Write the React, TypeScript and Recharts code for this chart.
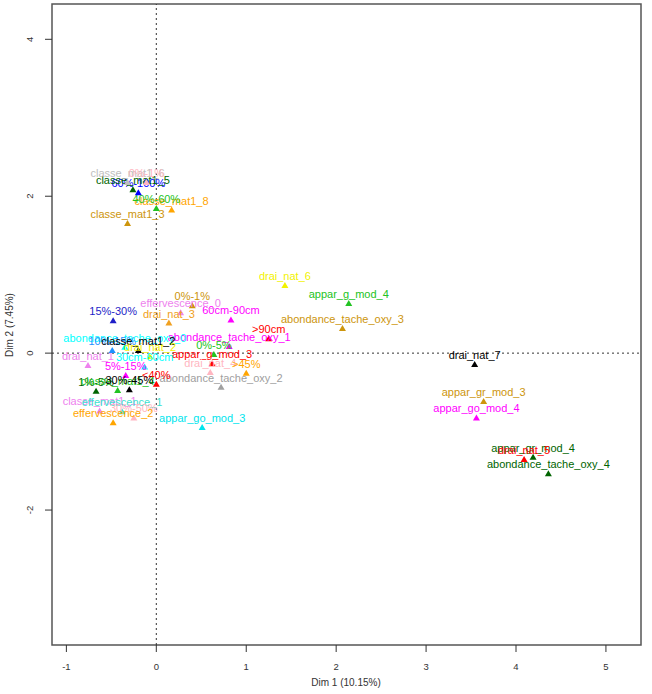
import React from "react";
import { ReferenceArea, ReferenceLine, Scatter, ScatterChart, XAxis, YAxis } from "recharts";

// modalités projetées sur le plan factoriel (Dim 1 / Dim 2)
const modalites = [
  "drai_nat_7", "appar_gr_mod_3", "appar_go_mod_4", "appar_gr_mod_4", "drai_nat_5",
  "abondance_tache_oxy_4", "drai_nat_6", "appar_g_mod_4", "abondance_tache_oxy_3", ">90cm",
  "60cm-90cm", "0%-1%", "effervescence_0", "drai_nat_3", "abondance_tache_oxy_1",
  "0%-5%", "appar_g_mod_3", "drai_nat_4", ">45%", "abondance_tache_oxy_2",
  "appar_go_mod_3", "<40%", "15%-30%", "classe_mat1_3", "classe_mat1_8",
  "40%-60%", "60%-100%", "classe_mat1_5", "classe_mat1_6", "0%-1%",
  "drai_nat_1", "abondance_tache_oxy_0", "10%-15%", "classe_mat1_2", "drai_nat_2",
  "30cm-60cm", "5%-15%", "1%-5%", "classe_mat1_4", "30%-45%",
  "classe_mat1_1", "effervescence_1", "30%-50%", "effervescence_2",
];

const dim1 = [
  3.54, 3.64, 3.56, 4.19, 4.09,
  4.36, 1.43, 2.14, 2.07, 1.25,
  0.83, 0.4, 0.27, 0.14, 0.81,
  0.64, 0.62, 0.6, 1.0, 0.72,
  0.51, 0.0, -0.48, -0.32, 0.17,
  0.0, -0.2, -0.26, -0.32, -0.11,
  -0.76, -0.35, -0.49, -0.2, -0.07,
  -0.13, -0.34, -0.67, -0.43, -0.3,
  -0.63, -0.38, -0.25, -0.48,
];

const dim2 = [
  -0.14, -0.61, -0.82, -1.32, -1.35,
  -1.53, 0.87, 0.64, 0.32, 0.19,
  0.43, 0.61, 0.52, 0.39, 0.09,
  -0.01, -0.13, -0.24, -0.25, -0.43,
  -0.94, -0.39, 0.42, 1.66, 1.83,
  1.85, 2.05, 2.09, 2.18, 2.18,
  -0.15, 0.08, 0.04, 0.04, -0.04,
  -0.17, -0.28, -0.48, -0.47, -0.46,
  -0.73, -0.74, -0.82, -0.88,
];

const ticksX = [-1, 0, 1, 2, 3, 4, 5];
const ticksY = [-2, 0, 2, 4];

// une couleur par variable, dans l'ordre des modalités
const couleurs = [
  "#000000", "#CD950C", "#FF00FF", "#006400", "#FF0000",
  "#006400", "#F2F200", "#22C322", "#CD950C", "#FF0000",
  "#FF00FF", "#CD950C", "#EE82EE", "#F0A020", "#FF00FF",
  "#22C322", "#FF0000", "#FFB6C1", "#FFA500", "#A0A0A0",
  "#00E5EE", "#FF0000", "#1E1EC8", "#CD950C", "#FFA500",
  "#22C322", "#0000FF", "#006400", "#BEBEBE", "#FFB6C1",
  "#EE82EE", "#00FFFF", "#1E90FF", "#000000", "#F2F200",
  "#00FFFF", "#FF00FF", "#006400", "#22C322", "#000000",
  "#EE82EE", "#40E0D0", "#FFB6C1", "#FFA500",
];

const points = modalites.map((nom, i) => ({ nom, x: dim1[i], y: dim2[i], couleur: couleurs[i] }));

const police = "'Liberation Sans', Arial, Helvetica, sans-serif";

// triangle plein + étiquette au-dessus, comme plot.MCA
function Modalite(props: any) {
  const { cx, cy, payload } = props;
  const c = payload.couleur;
  return (
    <g>
      <polygon points={`${cx - 3.5},${cy + 3} ${cx + 3.5},${cy + 3} ${cx},${cy - 3}`} fill={c} />
      <text x={cx} y={cy - 5} textAnchor="middle" fontSize={11} fontFamily={police} fill={c}>
        {payload.nom}
      </text>
    </g>
  );
}

function TickY(props: any) {
  const { y, payload } = props;
  return (
    <text
      transform={`translate(33, ${y}) rotate(-90)`}
      textAnchor="middle"
      fontSize={9.5}
      fontFamily={police}
      fill="#333"
    >
      {payload.value}
    </text>
  );
}

function TickX(props: any) {
  const { x, payload } = props;
  return (
    <text x={x} y={670} textAnchor="middle" fontSize={9.5} fontFamily={police} fill="#333">
      {payload.value}
    </text>
  );
}

export default function App() {
  return (
    <div style={{ position: "absolute", left: 0, top: 0, width: 652, height: 694, background: "#fff" }}>
      <ScatterChart width={652} height={694} margin={{ top: 4, right: 11, bottom: 0, left: 0 }}>
        <XAxis
          type="number"
          dataKey="x"
          domain={[-1.16, 5.39]}
          ticks={ticksX}
          allowDataOverflow
          height={49}
          axisLine={false}
          tickSize={7}
          tickLine={{ stroke: "#333" }}
          tick={<TickX />}
        />
        <YAxis
          type="number"
          dataKey="y"
          domain={[-3.72, 4.45]}
          ticks={ticksY}
          allowDataOverflow
          width={52}
          axisLine={false}
          tickSize={7}
          tickLine={{ stroke: "#333" }}
          tick={<TickY />}
        />
        <ReferenceArea
          x1={-1.16}
          x2={5.39}
          y1={-3.72}
          y2={4.45}
          fill="none"
          stroke="#555"
          strokeWidth={1.5}
          fillOpacity={0}
        />
        <ReferenceLine x={0} stroke="#333" strokeDasharray="2 3" />
        <ReferenceLine y={0} stroke="#333" strokeDasharray="2 3" />
        <Scatter data={points} shape={<Modalite />} isAnimationActive={false} />
        <text x={346} y={686} textAnchor="middle" fontSize={10} fontFamily={police} fill="#333">
          Dim 1 (10.15%)
        </text>
        <text
          transform="translate(13, 325) rotate(-90)"
          textAnchor="middle"
          fontSize={10}
          fontFamily={police}
          fill="#333"
        >
          Dim 2 (7.45%)
        </text>
      </ScatterChart>
    </div>
  );
}
